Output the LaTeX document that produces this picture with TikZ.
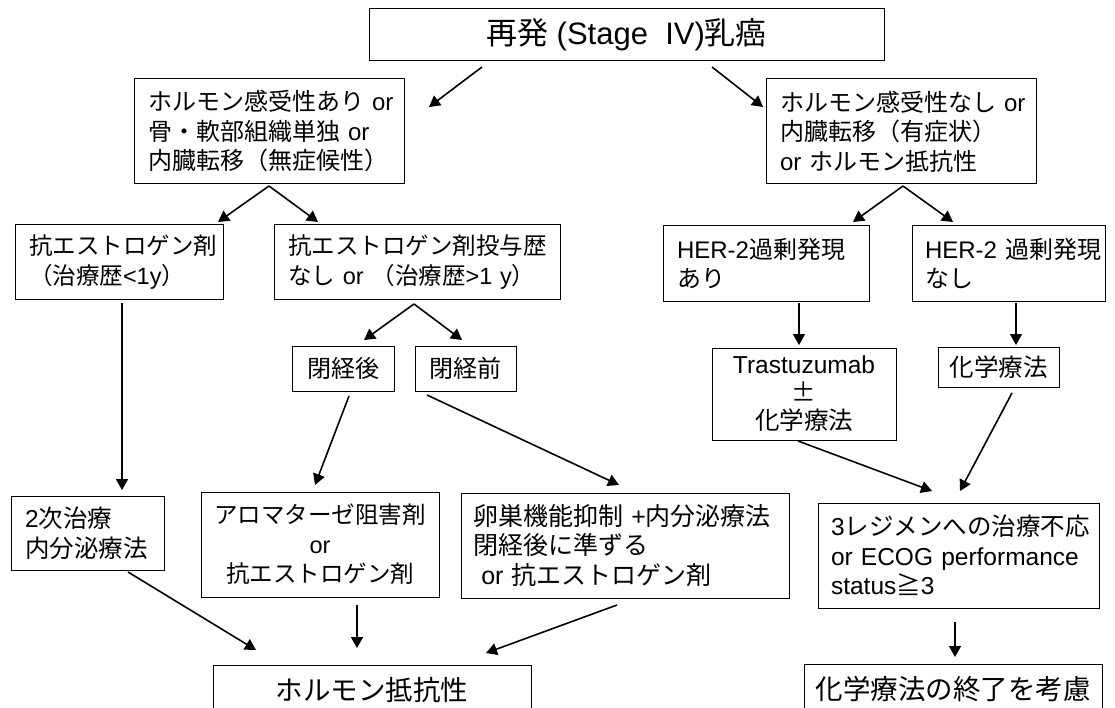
\documentclass[tikz,border=0pt]{standalone}
\usepackage{fontspec}
\setmainfont{Noto Sans CJK JP}
\newfontfamily\lat{Liberation Sans}
\newcommand\E[1]{{\lat #1}}
\usetikzlibrary{arrows.meta}
\tikzset{
  box/.style={draw, line width=1pt, inner xsep=14pt, inner ysep=0pt, anchor=center},
  arr/.style={-{Triangle[length=11pt,width=12pt]}, line width=1.6pt},
  fs/.style={font=\fontsize{#1}{29.5}\selectfont},
}
\begin{document}
\begin{tikzpicture}[x=1pt,y=-1pt]
\useasboundingbox (0,0) rectangle (1115,708);
\clip (0,0) rectangle (1115,708);

% boxes
\node[box, fs=31, minimum width=515pt, minimum height=52pt, align=center] (top) at (626.5,35) {再発\E{~(Stage~~IV)}乳癌};

\node[box, fs=24, minimum width=270pt, minimum height=105pt, text width=242pt, align=left] (hp) at (269,131.5)
  {\mbox{ホルモン感受性あり\E{~or}}\\\mbox{骨・軟部組織単独\E{~or}}\\内臓転移（無症候性）};
\node[box, fs=24, minimum width=270pt, minimum height=105pt, text width=242pt, align=left] (hn) at (901,131.5)
  {\mbox{ホルモン感受性なし\E{~or}}\\内臓転移（有症状）\\\mbox{\E{or~}ホルモン抵抗性}};

\node[box, fs=23.5, minimum width=208pt, minimum height=74pt, text width=180pt, align=left] (ae) at (119,262)
  {抗エストロゲン剤\\（治療歴\E{<1y}）};
\node[box, fs=23.5, minimum width=286pt, minimum height=74pt, text width=258pt, align=left] (ae2) at (417,262)
  {抗エストロゲン剤投与歴\\\mbox{なし\E{~or~}（治療歴\E{>1~y}）}};

\node[box, fs=24, minimum width=206pt, minimum height=75pt, text width=178pt, align=left] (her1) at (766,263.5)
  {\mbox{\E{HER-2}過剰発現}\\あり};
\node[box, fs=24, minimum width=193pt, minimum height=75pt, inner xsep=13pt, text width=167pt, align=left] (her2) at (1008.5,263.5)
  {\mbox{\E{HER-2~}過剰発現}\\なし};

\node[box, fs=24, minimum width=102pt, minimum height=45pt, inner xsep=0pt, align=center] (post) at (343,368.5) {閉経後};
\node[box, fs=24, minimum width=101pt, minimum height=45pt, inner xsep=0pt, align=center] (pre) at (465.5,368.5) {閉経前};

\node[box, font=\fontsize{24.5}{28}\selectfont, minimum width=184pt, minimum height=92pt, inner xsep=0pt, align=center] (tras) at (804,394)
  {\E{Trastuzumab}\\±\\化学療法};
\node[box, fs=24.5, minimum width=121pt, minimum height=40pt, inner xsep=0pt, align=center] (chemo) at (998.5,367) {化学療法};

\node[box, fs=24.5, minimum width=153pt, minimum height=74pt, text width=125pt, align=left] (sec) at (87.5,533)
  {\E{2}次治療\\内分泌療法};
\node[box, fs=23.5, minimum width=238pt, minimum height=105pt, inner xsep=0pt, align=center] (aro) at (320,544.5)
  {アロマターゼ阻害剤\\\E{or}\\抗エストロゲン剤};
\node[box, fs=25, minimum width=328pt, minimum height=105pt, inner xsep=12pt, text width=304pt, align=left] (ov) at (625,545.5)
  {\mbox{卵巣機能抑制\E{~+}内分泌療法}\\閉経後に準ずる\\\mbox{\E{\ or~}抗エストロゲン剤}};
\node[box, fs=24.5, minimum width=281pt, minimum height=105pt, inner xsep=13pt, text width=255pt, align=left] (reg) at (958.5,555.5)
  {\E{3}レジメンへの治療不応\\\mbox{\E{or~ECOG~performance}}\\\E{status}≧\E{3}};

\node[box, fs=27.5, minimum width=318pt, minimum height=50pt, inner xsep=0pt, align=center] (hr) at (372,690) {ホルモン抵抗性};
\node[box, fs=27.5, minimum width=298pt, minimum height=50pt, inner xsep=0pt, align=center] (fin) at (953,689) {化学療法の終了を考慮};

% connector end points
\coordinate (a1s) at (482,67);  \coordinate (a1e) at (429,107);
\coordinate (a2s) at (712,67);  \coordinate (a2e) at (763,107);
\coordinate (bap) at (269,186); \coordinate (b1e) at (218,222); \coordinate (b2e) at (318,222);
\coordinate (cap) at (903,186); \coordinate (c1e) at (853,222); \coordinate (c2e) at (953,222);
\coordinate (ds) at (122,303);  \coordinate (de) at (122,490);
\coordinate (eap) at (414,304); \coordinate (e1e) at (364,340); \coordinate (e2e) at (462,340);
\coordinate (f1s) at (349,396); \coordinate (f1e) at (315,485);
\coordinate (f2s) at (427,395); \coordinate (f2e) at (619,485);
\coordinate (g1s) at (799,303); \coordinate (g1e) at (799,345);
\coordinate (g2s) at (1016,303); \coordinate (g2e) at (1016,345);
\coordinate (h1s) at (798,441); \coordinate (h1e) at (932,491);
\coordinate (h2s) at (1012,393); \coordinate (h2e) at (960,491);
\coordinate (is) at (128,572);  \coordinate (ie) at (256,650);
\coordinate (js) at (357,605);  \coordinate (je) at (357,648);
\coordinate (ks) at (617,605);  \coordinate (ke) at (486,653);
\coordinate (ls) at (955,622);  \coordinate (le) at (955,657);

% connectors
\draw[arr] (a1s) -- (a1e);
\draw[arr] (a2s) -- (a2e);
\draw[arr] (bap) -- (b1e);
\draw[arr] (bap) -- (b2e);
\draw[arr] (cap) -- (c1e);
\draw[arr] (cap) -- (c2e);
\draw[arr] (ds) -- (de);
\draw[arr] (eap) -- (e1e);
\draw[arr] (eap) -- (e2e);
\draw[arr] (f1s) -- (f1e);
\draw[arr] (f2s) -- (f2e);
\draw[arr] (g1s) -- (g1e);
\draw[arr] (g2s) -- (g2e);
\draw[arr] (h1s) -- (h1e);
\draw[arr] (h2s) -- (h2e);
\draw[arr] (is) -- (ie);
\draw[arr] (js) -- (je);
\draw[arr] (ks) -- (ke);
\draw[arr] (ls) -- (le);
\end{tikzpicture}
\end{document}
